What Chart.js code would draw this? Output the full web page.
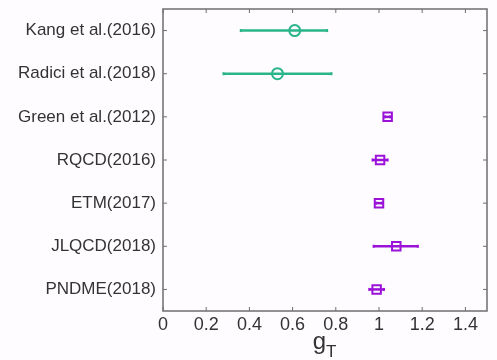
<!DOCTYPE html>
<html lang="en">
<head>
    <meta charset="UTF-8">
    <title>g_T comparison</title>
    <script src="https://cdn.jsdelivr.net/npm/chart.js"></script>
    <style>
        body {
            margin: 0;
            padding: 0;
            background-color: #fefcff;
        }

        .wrap {
            width: 497px;
            height: 360px;
        }
    </style>
</head>
<body>
    <div class="wrap">
        <canvas id="gtChart"></canvas>
    </div>

    <script>
        // rows, top to bottom
        const groups = ["Kang et al.(2016)", "Radici et al.(2018)", "Green et al.(2012)",
                        "RQCD(2016)", "ETM(2017)", "JLQCD(2018)", "PNDME(2018)"];
        const gtValues = [0.61, 0.53, 1.04, 1.005, 1.00, 1.08, 0.989];
        const errLow = [0.25, 0.25, 0.012, 0.035, 0.015, 0.105, 0.034];
        const errHigh = [0.15, 0.25, 0.012, 0.035, 0.015, 0.10, 0.034];
        const isLattice = [false, false, true, true, true, true, true];
        const xTicks = [0, 0.2, 0.4, 0.6, 0.8, 1, 1.2, 1.4];

        const green = "#2ab489";
        const purple = "#9a12d8";
        const frameColor = "#6e6e6e";

        // one line per error bar, short caps at the ends
        const datasets = [];
        groups.forEach((name, i) => {
            const col = isLattice[i] ? purple : green;
            datasets.push({
                type: "line",
                data: [{ x: gtValues[i] - errLow[i], y: i }, { x: gtValues[i] + errHigh[i], y: i }],
                borderColor: col,
                borderWidth: 2.5,
                pointStyle: "line",
                rotation: 90,
                pointRadius: 1.5,
                pointBorderColor: col,
                pointBorderWidth: 2,
                fill: false
            });
            datasets.push({
                type: "scatter",
                data: [{ x: gtValues[i], y: i }],
                pointStyle: isLattice[i] ? "rect" : "circle",
                pointRadius: isLattice[i] ? 6 : 5.5,
                pointBorderColor: col,
                pointBackgroundColor: "rgba(0,0,0,0)",
                pointBorderWidth: 2
            });
        });

        // frame with inward ticks on all sides + x title with subscript
        const framePlugin = {
            id: "frame",
            afterDraw(chart) {
                const { ctx, chartArea: a, scales } = chart;
                ctx.save();
                ctx.strokeStyle = frameColor;
                ctx.lineWidth = 1.5;
                ctx.strokeRect(a.left, a.top, a.right - a.left, a.bottom - a.top);
                ctx.lineWidth = 1;
                ctx.beginPath();
                xTicks.forEach(v => {
                    const px = scales.x.getPixelForValue(v);
                    ctx.moveTo(px, a.bottom); ctx.lineTo(px, a.bottom - 4);
                    ctx.moveTo(px, a.top); ctx.lineTo(px, a.top + 4);
                });
                groups.forEach((g, i) => {
                    const py = scales.y.getPixelForValue(i);
                    ctx.moveTo(a.left, py); ctx.lineTo(a.left + 4, py);
                    ctx.moveTo(a.right, py); ctx.lineTo(a.right - 4, py);
                });
                ctx.stroke();

                const cx = (a.left + a.right) / 2;
                ctx.fillStyle = "#333";
                ctx.textBaseline = "alphabetic";
                ctx.font = "24px 'Liberation Sans', Arial, sans-serif";
                ctx.textAlign = "right";
                ctx.fillText("g", cx + 1, 349);
                ctx.font = "17px 'Liberation Sans', Arial, sans-serif";
                ctx.textAlign = "left";
                ctx.fillText("T", cx + 1, 357);
                ctx.restore();
            }
        };

        const ctx = document.getElementById("gtChart").getContext("2d");
        new Chart(ctx, {
            data: { datasets: datasets },
            options: {
                responsive: true,
                maintainAspectRatio: false,
                animation: false,
                layout: { padding: { top: 9, right: 10, left: 0, bottom: 0 } },
                plugins: {
                    legend: { display: false },
                    tooltip: { enabled: false }
                },
                scales: {
                    x: {
                        type: "linear",
                        min: 0,
                        max: 1.5,
                        afterBuildTicks: s => { s.ticks = xTicks.map(v => ({ value: v })); },
                        afterFit: s => { s.height = 49; s.paddingLeft = 0; s.paddingRight = 0; },
                        grid: { display: false, drawTicks: false, tickLength: 0 },
                        border: { display: false },
                        ticks: {
                            color: "#333",
                            padding: 3,
                            maxRotation: 0,
                            font: { family: "'Liberation Sans', Arial, sans-serif", size: 18 },
                            callback: v => String(Number(v.toFixed(1)))
                        }
                    },
                    y: {
                        type: "linear",
                        min: -0.5,
                        max: 6.5,
                        reverse: true,
                        afterBuildTicks: s => { s.ticks = groups.map((g, i) => ({ value: i })); },
                        afterFit: s => { s.width = 163; s.paddingTop = 0; s.paddingBottom = 0; },
                        grid: { display: false, drawTicks: false, tickLength: 0 },
                        border: { display: false },
                        ticks: {
                            color: "#333",
                            padding: 7,
                            font: { family: "'Liberation Sans', Arial, sans-serif", size: 17 },
                            callback: v => groups[v]
                        }
                    }
                }
            },
            plugins: [framePlugin]
        });
    </script>
</body>
</html>
